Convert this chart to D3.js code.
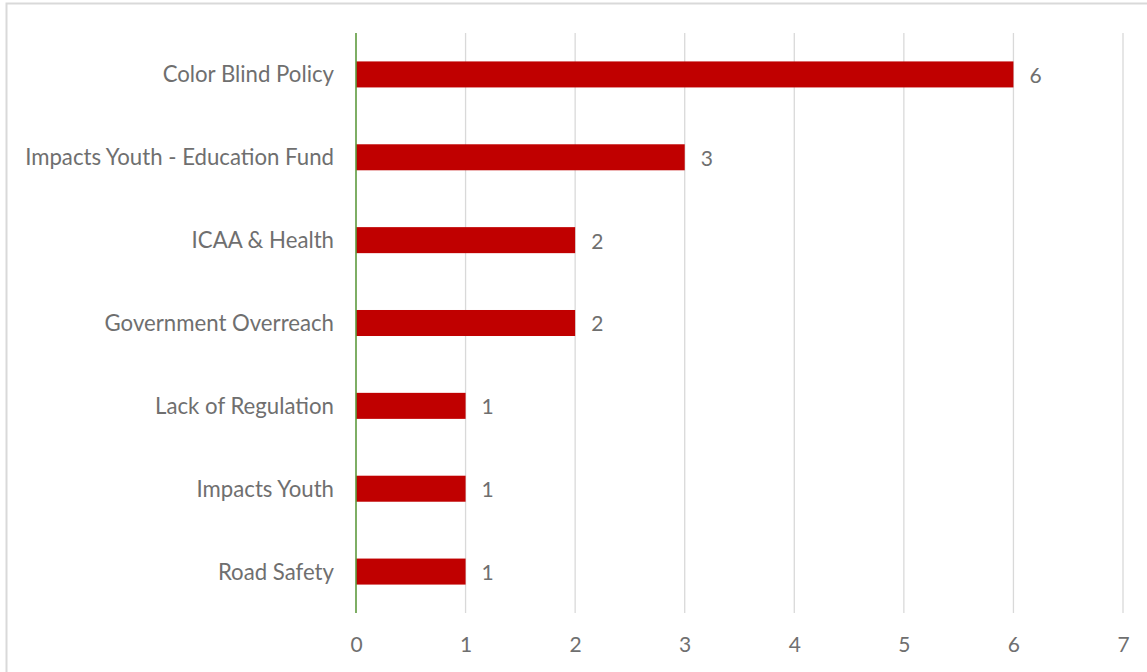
<!DOCTYPE html>
<html>
<head>
<meta charset="utf-8">
<script src="https://cdn.jsdelivr.net/npm/d3@7"></script>
<style>
  html, body { margin: 0; padding: 0; background: #fff; }
  svg { display: block; }
  text { font-family: Lato, "Open Sans", sans-serif; fill: #6f6f6f; }
</style>
</head>
<body>
<svg id="chart" width="1147" height="672"></svg>
<script>
// Topic categories, top to bottom, and their counts
const categories = [
  "Color Blind Policy",
  "Impacts Youth - Education Fund",
  "ICAA & Health",
  "Government Overreach",
  "Lack of Regulation",
  "Impacts Youth",
  "Road Safety"
];
const counts = [6, 3, 2, 2, 1, 1, 1];
const xTicks = [0, 1, 2, 3, 4, 5, 6, 7];

const W = 1147, H = 672;
const margin = { top: 33, right: 24, bottom: 59, left: 356 };
const FONT = "Lato, 'Open Sans', sans-serif";
const svg = d3.select("#chart");

// outer chart frame
svg.append("rect")
  .attr("x", 6.5).attr("y", 3.5)
  .attr("width", W + 10).attr("height", H + 10)
  .attr("fill", "none").attr("stroke", "#d9d9d9").attr("stroke-width", 2);

const x = d3.scaleLinear().domain([0, 7]).range([margin.left, W - margin.right]);
const y = d3.scaleBand().domain(categories)
  .range([margin.top, H - margin.bottom]).paddingInner(0.686).paddingOuter(0.343);

// vertical gridlines
svg.append("g")
  .selectAll("line").data(xTicks.filter(t => t > 0)).join("line")
  .attr("x1", d => x(d)).attr("x2", d => x(d))
  .attr("y1", margin.top).attr("y2", H - margin.bottom)
  .attr("stroke", "#d9d9d9").attr("stroke-width", 1.3);

// bars
svg.append("g")
  .selectAll("rect").data(categories).join("rect")
  .attr("x", x(0))
  .attr("y", d => y(d))
  .attr("width", (d, i) => x(counts[i]) - x(0))
  .attr("height", y.bandwidth())
  .attr("fill", "#c00000");

// value labels
svg.append("g")
  .selectAll("text").data(categories).join("text")
  .attr("x", (d, i) => x(counts[i]) + 16)
  .attr("y", d => y(d) + y.bandwidth() / 2)
  .attr("dy", "0.4em")
  .attr("font-size", 21)
  .text((d, i) => counts[i]);

// category axis (labels only, green baseline)
const yAxis = svg.append("g")
  .attr("transform", `translate(${x(0)},0)`)
  .call(d3.axisLeft(y).tickSize(0).tickPadding(22));
yAxis.select(".domain").remove();
yAxis.selectAll("text").attr("font-size", 22.2).attr("fill", "#6f6f6f")
  .attr("dy", "0.36em")
  .style("font-family", FONT);

svg.append("line")
  .attr("x1", x(0)).attr("x2", x(0))
  .attr("y1", margin.top).attr("y2", H - margin.bottom)
  .attr("stroke", "#5e9a3e").attr("stroke-width", 1.6);

// value axis (tick labels only)
const xAxis = svg.append("g")
  .attr("transform", `translate(0,${H - margin.bottom})`)
  .call(d3.axisBottom(x).tickValues(xTicks).tickFormat(d3.format("d")).tickSize(0).tickPadding(24));
xAxis.select(".domain").remove();
xAxis.selectAll("text").attr("font-size", 21).attr("fill", "#6f6f6f")
  .style("font-family", FONT);
</script>
</body>
</html>
